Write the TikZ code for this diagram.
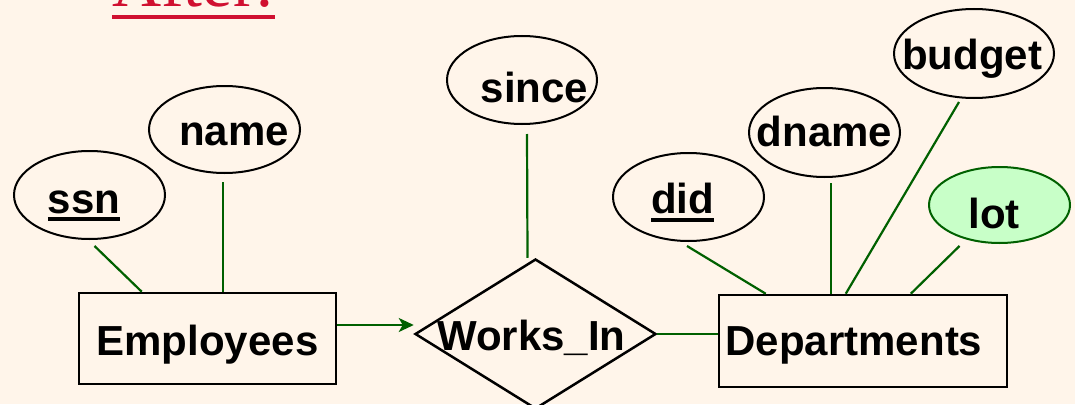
\documentclass[tikz,border=0pt]{standalone}
\usepackage{xcolor}
\usepackage{fontspec}
\setmainfont{Liberation Sans}
\newfontfamily\titlefont{Liberation Serif}
\usepackage{tikz}
\usetikzlibrary{shapes.geometric, arrows.meta}

\definecolor{bgcream}{RGB}{255,245,234}
\definecolor{ergreen}{RGB}{0,96,0}
\definecolor{lotgreen}{RGB}{200,255,200}
\definecolor{titlered}{RGB}{208,16,48}

% underlined text (key attributes and title)
\newcommand{\ulword}[2][8pt]{\setbox0=\hbox{#2}\rlap{\rule[-#1]{\wd0}{4pt}}\box0}

\begin{document}
\begin{tikzpicture}[x=1pt, y=-1pt,
  attrnode/.style={ellipse, draw=black, line width=2pt, inner sep=0pt, minimum width=151pt, minimum height=88pt},
  entnode/.style={rectangle, draw=black, line width=2.5pt, inner sep=0pt},
  relnode/.style={diamond, draw=black, line width=2.5pt, inner sep=0pt, minimum width=241pt, minimum height=150pt},
  lbl/.style={anchor=base, inner sep=0pt, font=\fontsize{42}{50}\selectfont\bfseries},
  link/.style={draw=ergreen, line width=2.2pt},
  >={Stealth[length=15pt, width=14pt, inset=4pt]}]

\useasboundingbox (0,0) rectangle (1075,404);
\clip (0,0) rectangle (1075,404);
\fill[bgcream] (0,0) rectangle (1075,404);

\node[anchor=base west, inner sep=0pt, text=titlered, font=\titlefont\fontsize{68}{80}\selectfont] at (112,7) (after) {\ulword[12pt]{After:}};

% entities and relationship
\node[entnode, minimum width=257pt, minimum height=91pt] at (207.5, 338.5) (emp) {};
\node[relnode] at (535.5, 334.0) (wi) {};
\node[entnode, minimum width=288pt, minimum height=92pt] at (863.0, 341.0) (dept) {};
\node[lbl] at ([yshift=-16.5pt]emp.center) (emp-txt) {Employees};
\node[lbl] at ([xshift=-4pt, yshift=-16pt]wi.center) (wi-txt) {Works\_In};
\node[lbl] at ([xshift=-9pt, yshift=-14pt]dept.center) (dept-txt) {Departments};

% attributes
\node[attrnode] at (89.5, 195.0) (ssn) {};
\node[attrnode, minimum height=87pt] at (224.5, 129.5) (name) {};
\node[attrnode, minimum width=150pt] at (522.0, 80.0) (since) {};
\node[attrnode] at (688.5, 197.0) (did) {};
\node[attrnode, minimum height=89pt] at (824.5, 132.5) (dname) {};
\node[attrnode, minimum width=160pt, minimum height=89pt] at (974.0, 53.5) (budget) {};
\node[attrnode, draw=ergreen, fill=lotgreen, minimum width=141pt, minimum height=76pt] at (999.5, 205.0) (lot) {};
\node[lbl] at ([xshift=-5.5pt, yshift=-18pt]ssn.center) (ssn-txt) {\ulword{ssn}};
\node[lbl] at ([xshift=9.5pt, yshift=-15.5pt]name.center) (name-txt) {name};
\node[lbl] at ([xshift=12.5pt, yshift=-22pt]since.center) (since-txt) {since};
\node[lbl] at ([xshift=-6pt, yshift=-16pt]did.center) (did-txt) {\ulword[9pt]{did}};
\node[lbl] at ([yshift=-13.5pt]dname.center) (dname-txt) {dname};
\node[lbl] at ([xshift=-2pt, yshift=-16.5pt]budget.center) (budget-txt) {budget};
\node[lbl] at ([xshift=-5.5pt, yshift=-23pt]lot.center) (lot-txt) {lot};

\draw[link] ([xshift=5pt, yshift=-6pt]ssn.south) -- ([xshift=64pt]emp.north west);
\draw[link] ([xshift=-1.5pt, yshift=-8pt]name.south) -- ([xshift=-1.5pt]name.south |- emp.north);
\draw[link] ([xshift=5pt, yshift=-9pt]since.south) -- ([xshift=-8pt]wi.north);
\draw[link, ->] ([yshift=13.5pt]emp.east) -- ([yshift=9pt]wi.west);
\draw[link] (wi.east) -- (wi.east -| dept.west);
\draw[link] ([xshift=-1.5pt, yshift=-4pt]did.south) -- ([xshift=48pt]dept.north west);
\draw[link] ([xshift=6.5pt, yshift=-5pt]dname.south) -- ([xshift=6.5pt]dname.south |- dept.north);
\draw[link] ([xshift=-15pt, yshift=-3pt]budget.south) -- ([xshift=128pt]dept.north west);
\draw[link] ([xshift=-40pt, yshift=-2pt]lot.south) -- ([xshift=193pt]dept.north west);

\end{tikzpicture}
\end{document}
